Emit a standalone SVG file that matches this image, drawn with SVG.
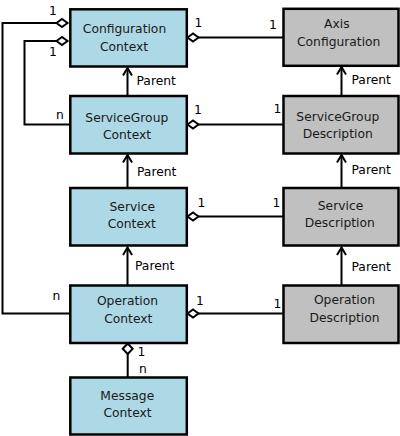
<svg xmlns="http://www.w3.org/2000/svg" width="400" height="436" viewBox="0 0 400 436">
<style>
.ctx{fill:#add8e6;stroke:#000;stroke-width:2.5}
.desc{fill:#c0c0c0;stroke:#000;stroke-width:2.5}
.t{font-family:"DejaVu Sans",sans-serif;font-size:12.3px;fill:#1a1a1a;text-anchor:middle}
.l{font-family:"DejaVu Sans",sans-serif;font-size:12.3px;fill:#000}
.ln{fill:none;stroke:#000;stroke-width:2}
.dia{fill:#fff;stroke:#000;stroke-width:2}
</style>
<rect width="400" height="436" fill="#fff"/>
<g id="connectors">
  <!-- left aggregation lines -->
  <polyline class="ln" points="70,313.5 2.5,313.5 2.5,23 56.5,23"/>
  <polygon class="dia" points="56.5,23 62,19 67.5,23 62,27"/>
  <polyline class="ln" points="70,124.5 24.5,124.5 24.5,41 56.5,41"/>
  <polygon class="dia" points="56.5,41 62,37 67.5,41 62,45"/>
  <!-- horizontal context-description lines -->
  <line class="ln" x1="198" y1="37.5" x2="283" y2="37.5"/>
  <polygon class="dia" points="187.5,37.5 193,33.5 198.5,37.5 193,41.5"/>
  <line class="ln" x1="198" y1="124.5" x2="283" y2="124.5"/>
  <polygon class="dia" points="187.5,124.5 193,120.5 198.5,124.5 193,128.5"/>
  <line class="ln" x1="198" y1="216.5" x2="283" y2="216.5"/>
  <polygon class="dia" points="187.5,216.5 193,212.5 198.5,216.5 193,220.5"/>
  <line class="ln" x1="198" y1="313.5" x2="283" y2="313.5"/>
  <polygon class="dia" points="187.5,313.5 193,309.5 198.5,313.5 193,317.5"/>
  <!-- message context -->
  <line class="ln" x1="127.7" y1="354" x2="127.7" y2="377"/>
  <polygon class="dia" points="127.7,343.5 132.7,348.8 127.7,354 122.7,348.8"/>
  <!-- parent arrows left -->
  <line class="ln" x1="127.5" y1="95" x2="127.5" y2="68"/>
  <polyline class="ln" points="123,75.5 127.5,68 132,75.5"/>
  <line class="ln" x1="127.5" y1="187" x2="127.5" y2="155"/>
  <polyline class="ln" points="123,162.5 127.5,155 132,162.5"/>
  <line class="ln" x1="127.5" y1="285" x2="127.5" y2="247.5"/>
  <polyline class="ln" points="123,255 127.5,247.5 132,255"/>
  <!-- parent arrows right -->
  <line class="ln" x1="341.5" y1="95" x2="341.5" y2="67"/>
  <polyline class="ln" points="337,74.5 341.5,67 346,74.5"/>
  <line class="ln" x1="341.5" y1="187" x2="341.5" y2="155"/>
  <polyline class="ln" points="337,162.5 341.5,155 346,162.5"/>
  <line class="ln" x1="341.5" y1="285" x2="341.5" y2="247.5"/>
  <polyline class="ln" points="337,255 341.5,247.5 346,255"/>
  <!-- labels -->
  <text class="l" x="49" y="15">1</text>
  <text class="l" x="49" y="56">1</text>
  <text class="l" x="56" y="119">n</text>
  <text class="l" x="52.5" y="300">n</text>
  <text class="l" x="194.5" y="26.5">1</text>
  <text class="l" x="269" y="29">1</text>
  <text class="l" x="194" y="113.5">1</text>
  <text class="l" x="273.5" y="112.5">1</text>
  <text class="l" x="197.5" y="207">1</text>
  <text class="l" x="272.5" y="207">1</text>
  <text class="l" x="196" y="305">1</text>
  <text class="l" x="273.5" y="308">1</text>
  <text class="l" x="137.5" y="356">1</text>
  <text class="l" x="139" y="372.5">n</text>
  <text class="l" x="136.5" y="84.5">Parent</text>
  <text class="l" x="137" y="176">Parent</text>
  <text class="l" x="135" y="270">Parent</text>
  <text class="l" x="351.5" y="84">Parent</text>
  <text class="l" x="351.5" y="173.5">Parent</text>
  <text class="l" x="351.5" y="270.5">Parent</text>
</g>
<g id="configuration-context">
  <rect class="ctx" x="70.3" y="9.3" width="116.5" height="57.2"/>
  <text class="t" x="124.5" y="33.3">Configuration</text>
  <text class="t" x="124" y="50.7">Context</text>
</g>
<g id="servicegroup-context">
  <rect class="ctx" x="70.3" y="96" width="116.5" height="57.5"/>
  <text class="t" x="126.8" y="121.7">ServiceGroup</text>
  <text class="t" x="127" y="139">Context</text>
</g>
<g id="service-context">
  <rect class="ctx" x="70.3" y="188" width="116.5" height="57.5"/>
  <text class="t" x="132.3" y="210.7">Service</text>
  <text class="t" x="131.8" y="227.7">Context</text>
</g>
<g id="operation-context">
  <rect class="ctx" x="70.3" y="285.5" width="116.5" height="57.5"/>
  <text class="t" x="127.5" y="305">Operation</text>
  <text class="t" x="128.3" y="322.7">Context</text>
</g>
<g id="message-context">
  <rect class="ctx" x="70.3" y="377.5" width="116.5" height="57"/>
  <text class="t" x="127.3" y="400">Message</text>
  <text class="t" x="127.5" y="417.3">Context</text>
</g>
<g id="axis-configuration">
  <rect class="desc" x="283.5" y="8.8" width="115" height="57"/>
  <text class="t" x="336.8" y="28">Axis</text>
  <text class="t" x="338.7" y="46">Configuration</text>
</g>
<g id="servicegroup-description">
  <rect class="desc" x="283.5" y="96" width="115" height="57.5"/>
  <text class="t" x="337.8" y="120.7">ServiceGroup</text>
  <text class="t" x="337.7" y="137.7">Description</text>
</g>
<g id="service-description">
  <rect class="desc" x="283.5" y="188" width="115" height="57.5"/>
  <text class="t" x="340.5" y="210">Service</text>
  <text class="t" x="339.8" y="226.7">Description</text>
</g>
<g id="operation-description">
  <rect class="desc" x="283.5" y="285.5" width="115" height="57.5"/>
  <text class="t" x="344.5" y="304">Operation</text>
  <text class="t" x="344.5" y="321.7">Description</text>
</g>
</svg>
